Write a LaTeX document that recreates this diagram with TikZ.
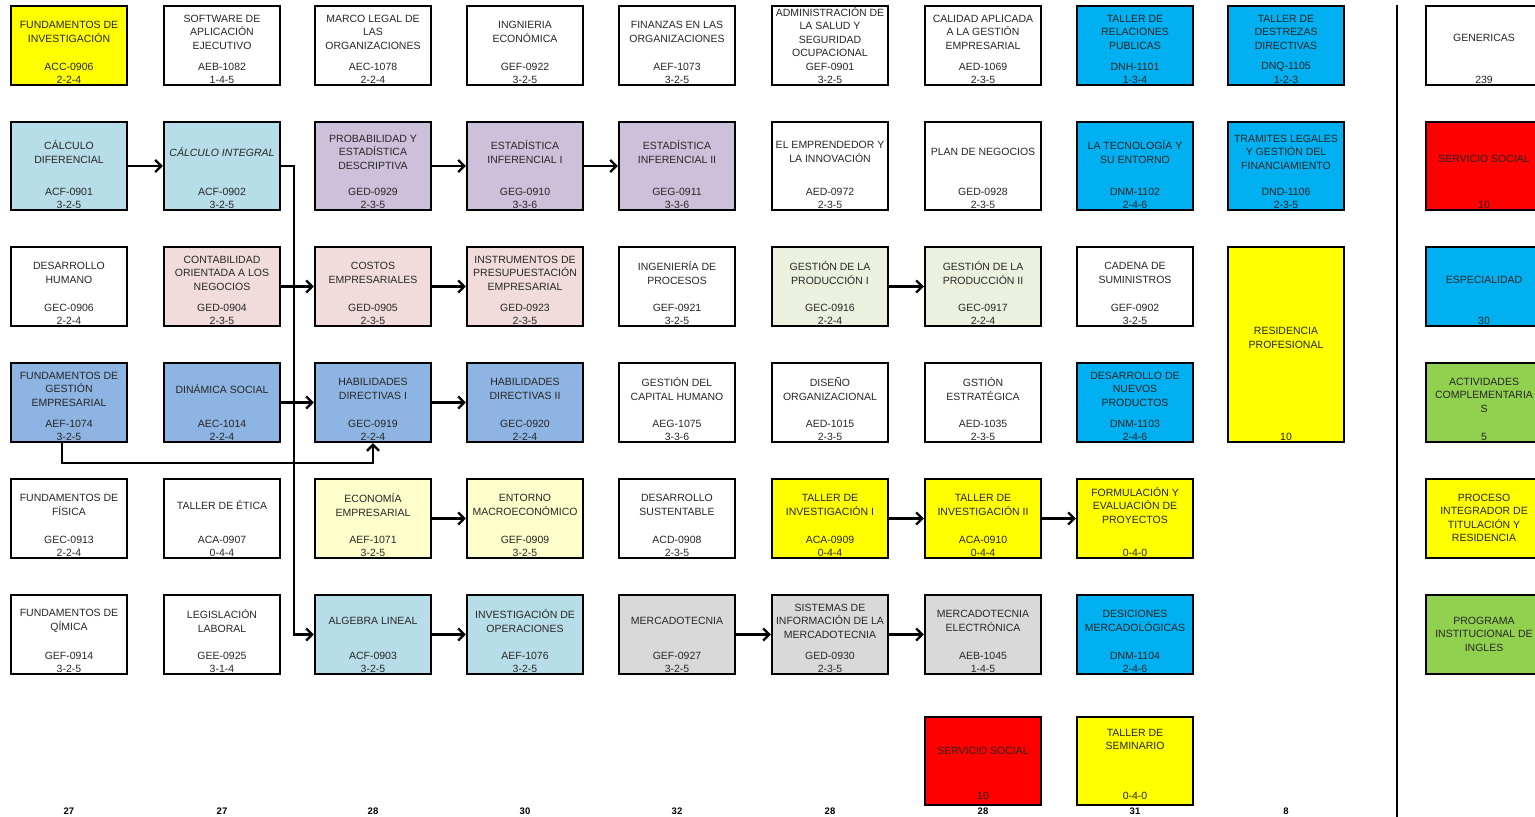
\documentclass[tikz,border=0pt]{standalone}
\usepackage{fontspec}
\setmainfont{Liberation Sans}
\usetikzlibrary{arrows.meta}
\definecolor{amarillo}{RGB}{255, 255, 0}
\definecolor{celeste}{RGB}{183, 221, 232}
\definecolor{lila}{RGB}{204, 192, 218}
\definecolor{rosa}{RGB}{242, 220, 219}
\definecolor{azulmedio}{RGB}{141, 180, 226}
\definecolor{crema}{RGB}{255, 255, 204}
\definecolor{verdeclaro}{RGB}{235, 241, 222}
\definecolor{gris}{RGB}{217, 217, 217}
\definecolor{cian}{RGB}{0, 176, 240}
\definecolor{rojo}{RGB}{255, 0, 0}
\definecolor{verde}{RGB}{146, 208, 80}
\tikzset{
  caja/.style={draw=black, line width=2.2pt, minimum width=116pt, inner sep=0pt},
  titulo/.style={align=center, font=\fontsize{10.5}{13.5}\selectfont, text=black!85, inner sep=0pt},
  clave/.style={font=\fontsize{10.5}{13.5}\selectfont, text=black!85, inner sep=0pt},
  total/.style={font=\fontsize{9.5}{11}\selectfont\bfseries, inner sep=0pt},
  flecha/.style={line width=2.4pt, -{Straight Barb[length=6pt,width=12pt]}},
  separador/.style={line width=2pt}
}
% distance of the credits line above the bottom of a box
\newcommand{\pie}{6.5}
% name, x, top, height, title y, colour, title, code, credits
\newcommand{\materia}[9]{%
  \node[caja, fill=#6, minimum height={#4-2}] (#1) at (#2,{#3+#4/2}) {};
  \node[titulo] (#1-t) at (#2,#5) {#7};
  \node[clave] (#1-c) at (#2,{#3+#4-\pie-13}) {#8};
  \node[clave] (#1-k) at (#2,{#3+#4-\pie}) {#9};
}
\begin{document}
\begin{tikzpicture}[x=1pt, y=-1pt]
  \useasboundingbox (0,0) rectangle (1535,817);
  \clip (0,0) rectangle (1535,817);
  \fill[white] (0,0) rectangle (1535,817);
  % semestre 1
  \materia{fi}{69}{5}{81}{32}{amarillo}{FUNDAMENTOS DE\\INVESTIGACIÓN}{ACC-0906}{2-2-4}
  \materia{cd}{69}{121}{90}{152}{celeste}{CÁLCULO\\DIFERENCIAL}{ACF-0901}{3-2-5}
  \materia{dh}{69}{246}{81}{273}{white}{DESARROLLO\\HUMANO}{GEC-0906}{2-2-4}
  \materia{fge}{69}{362}{81}{389}{azulmedio}{FUNDAMENTOS DE\\GESTIÓN\\EMPRESARIAL}{AEF-1074}{3-2-5}
  \materia{ff}{69}{478}{81}{505}{white}{FUNDAMENTOS DE\\FÍSICA}{GEC-0913}{2-2-4}
  \materia{fq}{69}{594}{81}{621}{white}{FUNDAMENTOS DE\\QÍMICA}{GEF-0914}{3-2-5}
  % semestre 2
  \materia{sae}{222}{5}{81}{32}{white}{SOFTWARE DE\\APLICACIÓN\\EJECUTIVO}{AEB-1082}{1-4-5}
  \materia{ci}{222}{121}{90}{152}{celeste}{\textit{CÁLCULO INTEGRAL}}{ACF-0902}{3-2-5}
  \materia{con}{222}{246}{81}{273}{rosa}{CONTABILIDAD\\ORIENTADA A LOS\\NEGOCIOS}{GED-0904}{2-3-5}
  \materia{ds}{222}{362}{81}{389}{azulmedio}{DINÁMICA SOCIAL}{AEC-1014}{2-2-4}
  \materia{te}{222}{478}{81}{505}{white}{TALLER DE ÉTICA}{ACA-0907}{0-4-4}
  \materia{ll}{222}{594}{81}{621}{white}{LEGISLACIÓN\\LABORAL}{GEE-0925}{3-1-4}
  % semestre 3
  \materia{mlo}{373}{5}{81}{32}{white}{MARCO LEGAL DE\\LAS\\ORGANIZACIONES}{AEC-1078}{2-2-4}
  \materia{ped}{373}{121}{90}{152}{lila}{PROBABILIDAD Y\\ESTADÍSTICA\\DESCRIPTIVA}{GED-0929}{2-3-5}
  \materia{cos}{373}{246}{81}{273}{rosa}{COSTOS\\EMPRESARIALES}{GED-0905}{2-3-5}
  \materia{hd1}{373}{362}{81}{389}{azulmedio}{HABILIDADES\\DIRECTIVAS I}{GEC-0919}{2-2-4}
  \materia{eem}{373}{478}{81}{505}{crema}{ECONOMÍA\\EMPRESARIAL}{AEF-1071}{3-2-5}
  \materia{al}{373}{594}{81}{621}{celeste}{ALGEBRA LINEAL}{ACF-0903}{3-2-5}
  % semestre 4
  \materia{ie}{525}{5}{81}{32}{white}{INGNIERIA\\ECONÓMICA}{GEF-0922}{3-2-5}
  \materia{ei1}{525}{121}{90}{152}{lila}{ESTADÍSTICA\\INFERENCIAL I}{GEG-0910}{3-3-6}
  \materia{ipe}{525}{246}{81}{273}{rosa}{INSTRUMENTOS DE\\PRESUPUESTACIÓN\\EMPRESARIAL}{GED-0923}{2-3-5}
  \materia{hd2}{525}{362}{81}{389}{azulmedio}{HABILIDADES\\DIRECTIVAS II}{GEC-0920}{2-2-4}
  \materia{ent}{525}{478}{81}{505}{crema}{ENTORNO\\MACROECONÓMICO}{GEF-0909}{3-2-5}
  \materia{io}{525}{594}{81}{621}{celeste}{INVESTIGACIÓN DE\\OPERACIONES}{AEF-1076}{3-2-5}
  % semestre 5
  \materia{fo}{677}{5}{81}{32}{white}{FINANZAS EN LAS\\ORGANIZACIONES}{AEF-1073}{3-2-5}
  \materia{ei2}{677}{121}{90}{152}{lila}{ESTADÍSTICA\\INFERENCIAL II}{GEG-0911}{3-3-6}
  \materia{ip}{677}{246}{81}{273}{white}{INGENIERÍA DE\\PROCESOS}{GEF-0921}{3-2-5}
  \materia{gch}{677}{362}{81}{389}{white}{GESTIÓN DEL\\CAPITAL HUMANO}{AEG-1075}{3-3-6}
  \materia{dsu}{677}{478}{81}{505}{white}{DESARROLLO\\SUSTENTABLE}{ACD-0908}{2-3-5}
  \materia{mer}{677}{594}{81}{621}{gris}{MERCADOTECNIA}{GEF-0927}{3-2-5}
  % semestre 6
  \materia{asso}{830}{5}{81}{32}{white}{ADMINISTRACIÓN DE\\LA SALUD Y\\SEGURIDAD\\OCUPACIONAL}{GEF-0901}{3-2-5}
  \materia{epi}{830}{121}{90}{152}{white}{EL EMPRENDEDOR Y\\LA INNOVACIÓN}{AED-0972}{2-3-5}
  \materia{gp1}{830}{246}{81}{273}{verdeclaro}{GESTIÓN DE LA\\PRODUCCIÓN I}{GEC-0916}{2-2-4}
  \materia{dor}{830}{362}{81}{389}{white}{DISEÑO\\ORGANIZACIONAL}{AED-1015}{2-3-5}
  \materia{ti1}{830}{478}{81}{505}{amarillo}{TALLER DE\\INVESTIGACIÓN I}{ACA-0909}{0-4-4}
  \materia{sim}{830}{594}{81}{621}{gris}{SISTEMAS DE\\INFORMACIÓN DE LA\\MERCADOTECNIA}{GED-0930}{2-3-5}
  % semestre 7
  \materia{cage}{983}{5}{81}{32}{white}{CALIDAD APLICADA\\A LA GESTIÓN\\EMPRESARIAL}{AED-1069}{2-3-5}
  \materia{pn}{983}{121}{90}{152}{white}{PLAN DE NEGOCIOS}{GED-0928}{2-3-5}
  \materia{gp2}{983}{246}{81}{273}{verdeclaro}{GESTIÓN DE LA\\PRODUCCIÓN II}{GEC-0917}{2-2-4}
  \materia{ges}{983}{362}{81}{389}{white}{GSTIÓN\\ESTRATÉGICA}{AED-1035}{2-3-5}
  \materia{ti2}{983}{478}{81}{505}{amarillo}{TALLER DE\\INVESTIGACIÓN II}{ACA-0910}{0-4-4}
  \materia{me}{983}{594}{81}{621}{gris}{MERCADOTECNIA\\ELECTRÓNICA}{AEB-1045}{1-4-5}
  % semestre 8
  \materia{trp}{1135}{5}{81}{32}{cian}{TALLER DE\\RELACIONES\\PUBLICAS}{DNH-1101}{1-3-4}
  \materia{lte}{1135}{121}{90}{152}{cian}{LA TECNOLOGÍA Y\\SU ENTORNO}{DNM-1102}{2-4-6}
  \materia{cs}{1135}{246}{81}{273}{white}{CADENA DE\\SUMINISTROS}{GEF-0902}{3-2-5}
  \materia{dnp}{1135}{362}{81}{389}{cian}{DESARROLLO DE\\NUEVOS\\PRODUCTOS}{DNM-1103}{2-4-6}
  \materia{fep}{1135}{478}{81}{505}{amarillo}{FORMULACIÓN Y\\EVALUACIÓN DE\\PROYECTOS}{}{0-4-0}
  \materia{dm}{1135}{594}{81}{621}{cian}{DESICIONES\\MERCADOLÓGICAS}{DNM-1104}{2-4-6}
  % semestre 9
  \materia{tdd}{1286}{5}{81}{32}{cian}{TALLER DE\\DESTREZAS\\DIRECTIVAS}{DNQ-1105}{1-2-3}
  \materia{tlg}{1286}{121}{90}{152}{cian}{TRAMITES LEGALES\\Y GESTIÓN DEL\\FINANCIAMIENTO}{DND-1106}{2-3-5}
  \materia{res}{1286}{246}{197}{338}{amarillo}{RESIDENCIA\\PROFESIONAL}{}{10}
  % resumen
  \materia{gen}{1484}{5}{81}{38}{white}{GENERICAS}{}{239}
  \materia{sso}{1484}{121}{90}{159}{rojo}{SERVICIO SOCIAL}{}{10}
  \materia{esp}{1484}{246}{81}{280}{cian}{ESPECIALIDAD}{}{30}
  \materia{acc}{1484}{362}{81}{395}{verde}{ACTIVIDADES\\COMPLEMENTARIA\\S}{}{5}
  \materia{pit}{1484}{478}{81}{518}{amarillo}{PROCESO\\INTEGRADOR DE\\TITULACIÓN Y\\RESIDENCIA}{}{}
  \materia{pin}{1484}{594}{81}{634}{verde}{PROGRAMA\\INSTITUCIONAL DE\\INGLES}{}{}
  % ultima fila
  \renewcommand{\pie}{10}
  \materia{ss}{983}{716}{90}{751}{rojo}{SERVICIO SOCIAL}{}{10}
  \materia{ts}{1135}{716}{90}{739.5}{amarillo}{TALLER DE\\SEMINARIO}{}{0-4-0}
  \coordinate (sep-top) at (1397,5);
  \coordinate (sep-bot) at (1397,817);
  \draw[separador] (sep-top) -- (sep-bot);
  % seriacion
  \draw[flecha] (cd) -- (ci);
  \draw[flecha] (ped) -- (ei1);
  \draw[flecha] (ei1) -- (ei2);
  \draw[flecha] (con) -- (cos);
  \draw[flecha] (cos) -- (ipe);
  \draw[flecha] (gp1) -- (gp2);
  \draw[flecha] (ds) -- (hd1);
  \draw[flecha] (hd1) -- (hd2);
  \draw[flecha] ([xshift=-7pt]fge.south) -- ++(0,20) -| (hd1.south);
  \draw[flecha] (eem) -- (ent);
  \draw[flecha] (ti1) -- (ti2);
  \draw[flecha] (ti2) -- (fep);
  \draw[flecha] (ci.east) -- ++(13,0) |- (al.west);
  \draw[flecha] (al) -- (io);
  \draw[flecha] (mer) -- (sim);
  \draw[flecha] (sim) -- (me);
  % creditos por semestre
  \foreach \x/\t [count=\i] in {69/27, 222/27, 373/28, 525/30, 677/32, 830/28, 983/28, 1135/31, 1286/8}
    \node[total] (tot\i) at (\x,811) {\t};
\end{tikzpicture}
\end{document}
